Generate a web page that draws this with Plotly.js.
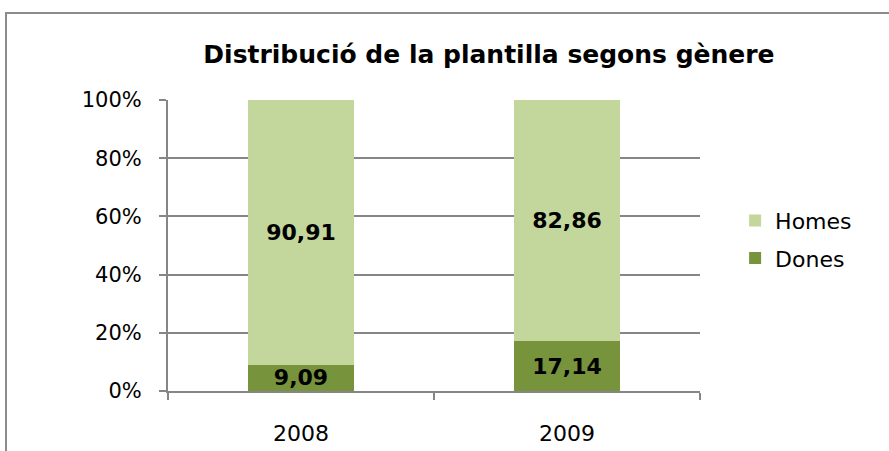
<!DOCTYPE html>
<html><head><meta charset="utf-8">
<script src="https://cdn.plot.ly/plotly-3.0.1.min.js"></script>
<style>html,body{margin:0;padding:0;background:#fff;}#frame{position:absolute;left:5px;top:12px;width:900px;height:460px;border-left:2px solid #8c8c8c;border-top:2px solid #8c8c8c;pointer-events:none;}#chart{position:absolute;left:0;top:0;width:889px;height:451px;}</style>
</head><body>
<div id="chart"></div><div id="frame"></div>
<script>
var years = ['2008', '2009'];
var dones = [9.09, 17.14];
var homes = [90.91, 82.86];
var yTicks = [0, 20, 40, 60, 80, 100];
var yTickText = ['0%', '20%', '40%', '60%', '80%', '100%'];
var F = 'DejaVu Sans, Verdana, sans-serif';
var traces = [
  {type:'bar', name:'Dones', x:years, y:dones, marker:{color:'#77933C'}, legendgroup:'d', legendrank:2,
   texttemplate:'%{y:.2f}', textposition:'inside', insidetextanchor:'middle', constraintext:'none',
   textfont:{family:F, size:22, color:'#000', weight:'bold'}, hoverinfo:'none'},
  {type:'bar', name:'Homes', x:years, y:homes, marker:{color:'#C3D69B'}, legendgroup:'h', legendrank:1,
   texttemplate:'%{y:.2f}', textposition:'inside', insidetextanchor:'middle', constraintext:'none',
   textfont:{family:F, size:22, color:'#000', weight:'bold'}, hoverinfo:'none'}
];
var layout = {
  width:889, height:451, separators:', ',
  barmode:'stack', bargap:0.6,
  margin:{l:168, r:189, t:100, b:60},
  paper_bgcolor:'#fff', plot_bgcolor:'#fff',
  font:{family:F, size:21, color:'#000'},
  title:{text:'<b>Distribució de la plantilla segons gènere</b>', font:{family:F, size:25, color:'#000'},
         xref:'container', x:0.55, xanchor:'center', yref:'container', y:0.88, yanchor:'middle'},
  xaxis:{type:'category', showline:true, linecolor:'#868686', linewidth:2,
         ticks:'outside', tickson:'boundaries', ticklen:7, tickcolor:'#868686', tickwidth:2,
         ticklabelstandoff:22, showgrid:false, tickfont:{family:F, size:22}},
  yaxis:{range:[0,100], tickmode:'array', tickvals:yTicks, ticktext:yTickText, showline:true, linecolor:'#868686', linewidth:2,
         ticks:'outside', ticklen:7, tickcolor:'#868686', tickwidth:2, ticklabelstandoff:13,
         showgrid:true, gridcolor:'#868686', gridwidth:2, zeroline:false, tickfont:{family:F, size:21}},
  legend:{traceorder:'grouped', x:1.066, xref:'paper', xanchor:'left', y:0.52, yanchor:'middle',
          font:{family:F, size:22}, itemwidth:30, tracegroupgap:6},
  showlegend:true
};
Plotly.newPlot('chart', traces, layout, {displayModeBar:false, staticPlot:true});
</script>
</body></html>
